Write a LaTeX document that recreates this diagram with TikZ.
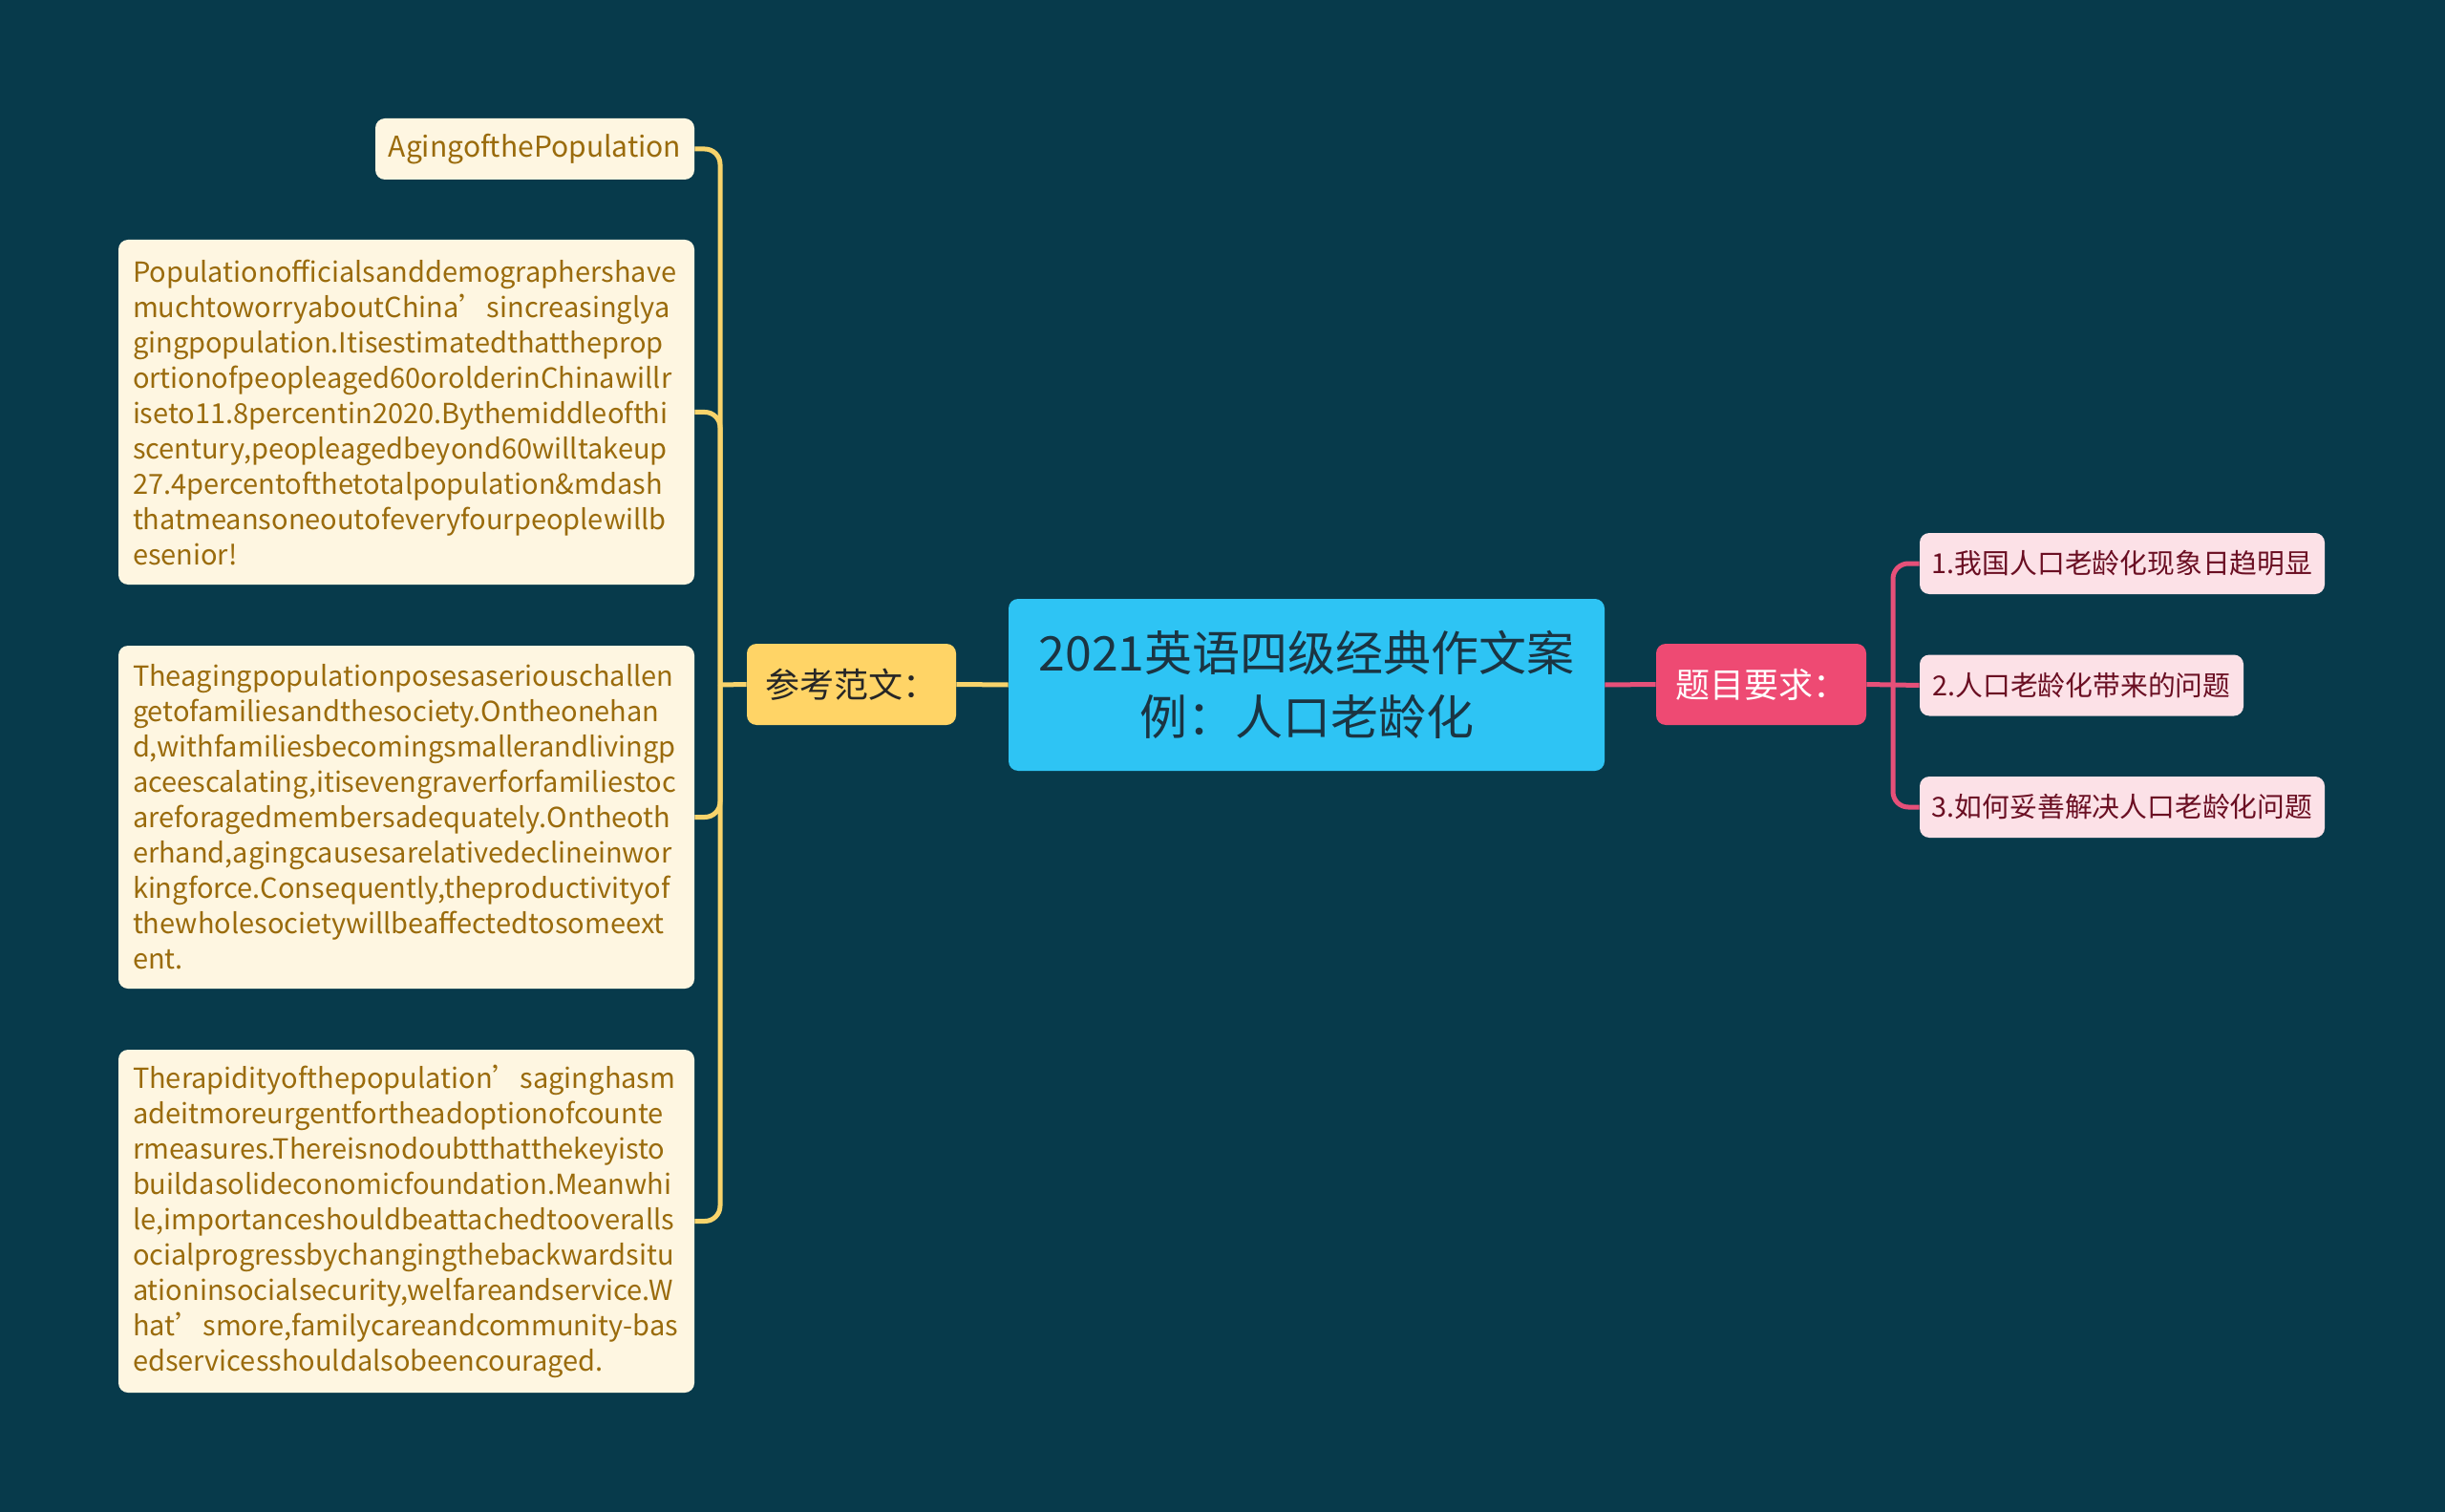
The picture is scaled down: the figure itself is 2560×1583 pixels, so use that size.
\documentclass[tikz,border=0pt]{standalone}
\usepackage{fontspec}
\setmainfont{Noto Sans CJK SC}
\definecolor{bg}{HTML}{073A4B}
\definecolor{cream}{HTML}{FEF6E1}
\definecolor{gold}{HTML}{9A6B0C}
\definecolor{yl}{HTML}{F7D36B}
\definecolor{refc}{HTML}{FFD466}
\definecolor{rootc}{HTML}{2EC4F4}
\definecolor{roott}{HTML}{1B3442}
\definecolor{reqc}{HTML}{EE4A73}
\definecolor{pinkc}{HTML}{FCE1E7}
\definecolor{plink}{HTML}{E65079}
\definecolor{redt}{HTML}{6A0E22}
\newcommand{\M}[1]{\mbox{#1}}
\begin{document}
\begin{tikzpicture}[x=0.5pt,y=-0.5pt,
  box/.style={rounded corners=5pt,inner sep=0pt,anchor=center},
  leaf/.style={box,fill=cream,text=gold,font=\fontsize{15}{18.5}\selectfont},
  para/.style={box,fill=cream,text=gold,font=\fontsize{14.5}{18.5}\selectfont,
    align=left,text width=286.5pt,inner xsep=7.5pt,minimum height=#1},
  yline/.style={draw=yl,line width=2.5pt},
  pline/.style={draw=plink,line width=2.5pt},
  req/.style={box,fill=pinkc,text=redt,font=\fontsize{14.4}{18}\selectfont,minimum height=32pt}]
\fill[bg] (0,0) rectangle (2560,1583);
\useasboundingbox (0,0) rectangle (2560,1583);

% root
\node[box,fill=rootc,text=roott,minimum width=312pt,minimum height=90pt,align=center,
  font=\fontsize{25}{33.5}\selectfont] (root) at (1368,717) {2021英语四级经典作文案\\例：人口老龄化};

% left branch
\node[box,fill=refc,text=black!85,minimum width=109.5pt,minimum height=42.5pt,
  font=\fontsize{18}{20}\selectfont] (ref) at (891.5,716.5) {参考范文：};
\node[leaf,minimum width=167pt,minimum height=32pt] (aging) at (560,156) {AgingofthePopulation};
\node[para=180.5pt] (p1) at (425.5,431.5) {\M{Populationofficialsanddemographershave}\\
\M{muchtoworryaboutChina’sincreasinglya}\\
\M{gingpopulation.Itisestimatedthattheprop}\\
\M{ortionofpeopleaged60orolderinChinawillr}\\
\M{iseto11.8percentin2020.Bythemiddleofthi}\\
\M{scentury,peopleagedbeyond60willtakeup}\\
\M{27.4percentofthetotalpopulation\&mdash}\\
\M{thatmeansoneoutofeveryfourpeoplewillb}\\
\M{esenior!}};
\node[para=179.5pt] (p2) at (425.5,855.5) {\M{Theagingpopulationposesaseriouschallen}\\
\M{getofamiliesandthesociety.Ontheonehan}\\
\M{d,withfamiliesbecomingsmallerandlivingp}\\
\M{aceescalating,itisevengraverforfamiliestoc}\\
\M{areforagedmembersadequately.Ontheoth}\\
\M{erhand,agingcausesarelativedeclineinwor}\\
\M{kingforce.Consequently,theproductivityof}\\
\M{thewholesocietywillbeaffectedtosomeext}\\
\M{ent.}};
\node[para=179.5pt] (p3) at (425.5,1278.5) {\M{Therapidityofthepopulation’saginghasm}\\
\M{adeitmoreurgentfortheadoptionofcounte}\\
\M{rmeasures.Thereisnodoubtthatthekeyisto}\\
\M{buildasolideconomicfoundation.Meanwhi}\\
\M{le,importanceshouldbeattachedtooveralls}\\
\M{ocialprogressbychangingthebackwardsitu}\\
\M{ationinsocialsecurity,welfareandservice.W}\\
\M{hat’smore,familycareandcommunity-bas}\\
\M{edservicesshouldalsobeencouraged.}};

% right branch
\node[box,fill=reqc,text=white,minimum width=110pt,minimum height=42.5pt,
  font=\fontsize{18}{20}\selectfont] (rq) at (1844,716.5) {题目要求：};
\node[req,minimum width=212pt] (r1) at (2222,590) {1.我国人口老龄化现象日趋明显};
\node[req,minimum width=169.5pt] (r2) at (2179.5,717.5) {2.人口老龄化带来的问题};
\node[req,minimum width=212pt] (r3) at (2222,845) {3.如何妥善解决人口老龄化问题};

\coordinate (tl) at (754,717);
\coordinate (tr) at (1982,717);

% connectors
\draw[yline] (root.west) -- (ref.east);
\draw[yline] (ref.west) -- (tl);
\draw[yline,rounded corners=8pt] (tl) |- (aging.east);
\draw[yline,rounded corners=8pt] (tl) |- (p1.east);
\draw[yline,rounded corners=8pt] (tl) |- (p2.east);
\draw[yline,rounded corners=8pt] (tl) |- (p3.east);
\draw[pline] (root.east) -- (rq.west);
\draw[pline] (rq.east) -- (tr);
\draw[pline,rounded corners=8pt] (tr) |- (r1.west);
\draw[pline] (tr) -- (r2.west);
\draw[pline,rounded corners=8pt] (tr) |- (r3.west);
\end{tikzpicture}
\end{document}
